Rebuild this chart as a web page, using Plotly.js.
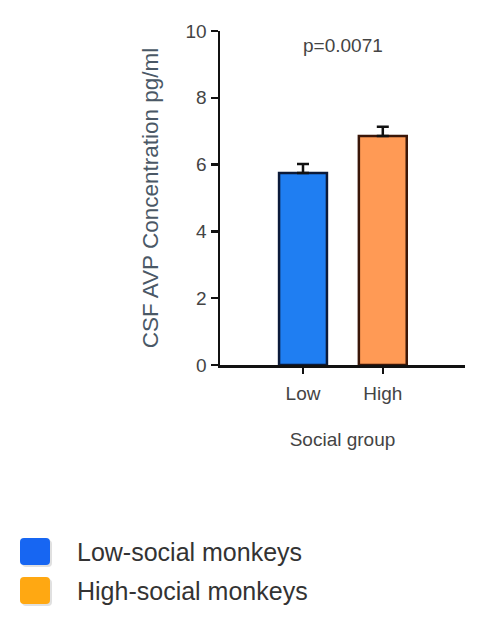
<!DOCTYPE html>
<html>
<head>
<meta charset="utf-8">
<script src="https://cdn.plot.ly/plotly-3.0.1.min.js"></script>
<style>
html,body{margin:0;padding:0;background:#fff;}
#chart{width:488px;height:620px;}
</style>
</head>
<body>
<div id="chart"></div>
<script>
var categories = ['Low', 'High'];
var meanValues = [5.75, 6.86];
var semUpper = [0.27, 0.27];
var semLower = [0, 0];
var barColors = ['#1f7ef2', '#ff9a55'];
var barEdges = ['#0b1a3a', '#3a1608'];
var yTicks = [0, 2, 4, 6, 8, 10];
var legendLabels = ['Low-social monkeys', 'High-social monkeys'];
var legendColors = ['#1766f2', '#ffa812'];
var pLabel = 'p=0.0071';

var trace = {
  type: 'bar',
  x: categories,
  y: meanValues,
  width: 0.6,
  marker: {color: barColors, line: {color: barEdges, width: 2.5}},
  error_y: {type: 'data', symmetric: false, array: semUpper, arrayminus: semLower,
            visible: true, color: '#111', thickness: 2.5, width: 6},
  hoverinfo: 'none'
};

function px2x(p) { return (p - 220) / 245; }
function px2y(p) { return (365 - p) / 334; }

var shapes = [];
var annotations = [{
  xref: 'paper', yref: 'paper', x: px2x(343), y: px2y(45), yanchor: 'middle', xanchor: 'center',
  text: pLabel, showarrow: false,
  font: {family: 'Liberation Sans, Arial, sans-serif', size: 19, color: '#444'}
}];
legendLabels.forEach(function (lab, i) {
  var top = 538 + i * 39;
  var x0 = 20, x1 = 50, y0 = top, y1 = top + 27, r = 4;
  // soft shadow
  shapes.push({
    type: 'path', xref: 'paper', yref: 'paper',
    path: 'M' + px2x(x0 + 2 + r) + ',' + px2y(y0 + 2) +
          ' L' + px2x(x1 + 2 - r) + ',' + px2y(y0 + 2) +
          ' Q' + px2x(x1 + 2) + ',' + px2y(y0 + 2) + ' ' + px2x(x1 + 2) + ',' + px2y(y0 + 2 + r) +
          ' L' + px2x(x1 + 2) + ',' + px2y(y1 + 2 - r) +
          ' Q' + px2x(x1 + 2) + ',' + px2y(y1 + 2) + ' ' + px2x(x1 + 2 - r) + ',' + px2y(y1 + 2) +
          ' L' + px2x(x0 + 2 + r) + ',' + px2y(y1 + 2) +
          ' Q' + px2x(x0 + 2) + ',' + px2y(y1 + 2) + ' ' + px2x(x0 + 2) + ',' + px2y(y1 + 2 - r) +
          ' L' + px2x(x0 + 2) + ',' + px2y(y0 + 2 + r) +
          ' Q' + px2x(x0 + 2) + ',' + px2y(y0 + 2) + ' ' + px2x(x0 + 2 + r) + ',' + px2y(y0 + 2) + ' Z',
    fillcolor: 'rgba(0,0,0,0.12)', line: {width: 0}, layer: 'above'
  });
  shapes.push({
    type: 'path', xref: 'paper', yref: 'paper',
    path: 'M' + px2x(x0 + r) + ',' + px2y(y0) +
          ' L' + px2x(x1 - r) + ',' + px2y(y0) +
          ' Q' + px2x(x1) + ',' + px2y(y0) + ' ' + px2x(x1) + ',' + px2y(y0 + r) +
          ' L' + px2x(x1) + ',' + px2y(y1 - r) +
          ' Q' + px2x(x1) + ',' + px2y(y1) + ' ' + px2x(x1 - r) + ',' + px2y(y1) +
          ' L' + px2x(x0 + r) + ',' + px2y(y1) +
          ' Q' + px2x(x0) + ',' + px2y(y1) + ' ' + px2x(x0) + ',' + px2y(y1 - r) +
          ' L' + px2x(x0) + ',' + px2y(y0 + r) +
          ' Q' + px2x(x0) + ',' + px2y(y0) + ' ' + px2x(x0 + r) + ',' + px2y(y0) + ' Z',
    fillcolor: legendColors[i], line: {width: 0}, layer: 'above'
  });
  annotations.push({
    xref: 'paper', yref: 'paper',
    x: px2x(75), y: px2y(top + 14),
    xanchor: 'left', yanchor: 'middle', showarrow: false,
    text: lab,
    font: {family: 'Liberation Sans, Arial, sans-serif', size: 25, color: '#333'}
  });
});

var layout = {
  width: 488, height: 620,
  margin: {l: 220, r: 23, t: 31, b: 255},
  paper_bgcolor: '#fff', plot_bgcolor: '#fff',
  showlegend: false,
  font: {family: 'Liberation Sans, Arial, sans-serif', color: '#444'},
  xaxis: {
    type: 'category', range: [-1.04, 2.03],
    showline: true, linecolor: '#111', linewidth: 2.5,
    ticks: 'outside', ticklen: 6, tickwidth: 2.5, tickcolor: '#111',
    ticklabelstandoff: 4,
    showgrid: false, zeroline: false,
    tickfont: {size: 19, color: '#444'},
    title: {text: 'Social group', font: {size: 19, color: '#444'}, standoff: 30}
  },
  yaxis: {
    range: [0, 10], tickvals: yTicks,
    showline: true, linecolor: '#111', linewidth: 2.5,
    ticks: 'outside', ticklen: 7, tickwidth: 2.5, tickcolor: '#111',
    showgrid: false, zeroline: false,
    tickfont: {size: 19, color: '#444'},
    title: {text: 'CSF AVP Concentration pg/ml', font: {size: 22.5, color: '#4a5866'}, standoff: 21}
  },
  shapes: shapes,
  annotations: annotations
};

Plotly.newPlot('chart', [trace], layout, {displayModeBar: false, staticPlot: true});
</script>
</body>
</html>
